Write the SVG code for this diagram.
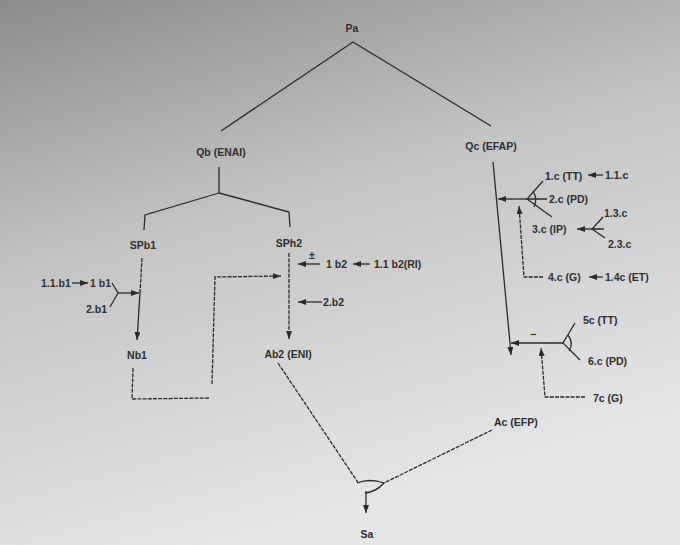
<svg xmlns="http://www.w3.org/2000/svg" width="680" height="545" viewBox="0 0 680 545">
  <defs>
    <linearGradient id="bg" x1="0" y1="0" x2="0.35" y2="1">
      <stop offset="0" stop-color="#8c8c8c"/>
      <stop offset="0.45" stop-color="#c4c4c4"/>
      <stop offset="1" stop-color="#e6e6e6"/>
    </linearGradient>
    <marker id="ah" markerUnits="userSpaceOnUse" markerWidth="8" markerHeight="6" refX="8" refY="3" orient="auto">
      <path d="M0,0 L8,3 L0,6 z" fill="#2a2a2a"/>
    </marker>
    <style>
      .ln { fill: none; stroke: #2a2a2a; stroke-width: 1.3; }
      .ds { stroke-dasharray: 4 1.2; }
      .ar { marker-end: url(#ah); }
      text { font-family: "Liberation Sans", Arial, sans-serif; font-size: 10.5px; font-weight: bold; fill: #2e2e2e; }
      .c { text-anchor: middle; }
    </style>
  </defs>
  <rect x="0" y="0" width="680" height="545" fill="url(#bg)"/>

  <g id="connectors">
    <path class="ln" d="M353,42 L221,131"/>
    <path class="ln" d="M353,42 L491,126"/>
    <path class="ln" d="M219,167 L219,193"/>
    <path class="ln" d="M219,193 L145,215 L144,230"/>
    <path class="ln" d="M219,193 L289,212 L290,227"/>
    <path class="ln ds" d="M142,258 L140,293"/>
    <path class="ln ar" d="M140,293 L137,340"/>
    <path class="ln ar" d="M72,283 L88,283"/>
    <path class="ln" d="M112,283 L118,293 L110,307"/>
    <path class="ln ar" d="M118,293 L139,293"/>
    <path class="ln ds" d="M133,368 L132,399 L210,398"/>
    <path class="ln ds ar" d="M212,384 L215,277 L281,276"/>
    <path class="ln ds ar" d="M289,253 L289,339"/>
    <path class="ln ar" d="M320,264 L298,264"/>
    <path class="ln ar" d="M370,264 L353,264"/>
    <path class="ln ar" d="M322,302 L298,302"/>
    <path class="ln ar" d="M493,162 L510,343 L511,355"/>
    <path class="ln ar" d="M527,199 L498,199"/>
    <path class="ln" d="M543,181 L527,199 L547,199 M527,199 L552,217"/>
    <path class="ln" d="M533,191 Q538,199 534,207"/>
    <path class="ln ar" d="M603,175 L588,175"/>
    <path class="ln ar" d="M592,229 L577,229"/>
    <path class="ln" d="M603,217 L592,229 L604,229 M592,229 L605,238"/>
    <path class="ln ds ar" d="M543,277 L524,277 L519,206"/>
    <path class="ln ar" d="M603,277 L589,277"/>
    <path class="ln ar" d="M563,343 L511,343"/>
    <path class="ln" d="M575,323 L563,343 L580,360"/>
    <path class="ln" d="M568,335 Q574,343 569,351"/>
    <path class="ln ds ar" d="M585,397 L545,397 L541,348"/>
    <path class="ln ds" d="M278,363 L359,484"/>
    <path class="ln ds" d="M492,430 L384,483"/>
    <path class="ln" d="M357,483 Q370,478 384,483 Q376,492 365,493"/>
    <path class="ln ar" d="M366,491 L366,513"/>
  </g>

  <g id="node-Pa"><text class="c" x="352" y="32">Pa</text></g>
  <g id="node-Qb"><text class="c" x="221" y="156">Qb (ENAI)</text></g>
  <g id="node-Qc"><text class="c" x="491" y="150">Qc (EFAP)</text></g>
  <g id="node-SPb1"><text class="c" x="143" y="249">SPb1</text></g>
  <g id="node-SPh2"><text class="c" x="289" y="247">SPh2</text></g>
  <g id="node-1.1.b1"><text x="41" y="287">1.1.b1</text></g>
  <g id="node-1b1"><text x="90" y="287">1 b1</text></g>
  <g id="node-2.b1"><text x="86" y="313">2.b1</text></g>
  <g id="node-Nb1"><text class="c" x="137" y="359">Nb1</text></g>
  <g id="node-1b2"><text class="c" x="312" y="259">±</text><text x="326" y="268">1 b2</text></g>
  <g id="node-1.1b2"><text x="374" y="268">1.1 b2(RI)</text></g>
  <g id="node-2.b2"><text x="323" y="306">2.b2</text></g>
  <g id="node-Ab2"><text class="c" x="288" y="358">Ab2 (ENI)</text></g>
  <g id="node-1c"><text x="545" y="180">1.c (TT)</text></g>
  <g id="node-1.1c"><text x="605" y="179">1.1.c</text></g>
  <g id="node-2c"><text x="549" y="203">2.c (PD)</text></g>
  <g id="node-3c"><text x="532" y="233">3.c (IP)</text></g>
  <g id="node-1.3c"><text x="604" y="217">1.3.c</text></g>
  <g id="node-2.3c"><text x="608" y="248">2.3.c</text></g>
  <g id="node-4c"><text x="548" y="281">4.c (G)</text></g>
  <g id="node-1.4c"><text x="605" y="281">1.4c (ET)</text></g>
  <g id="node-5c"><text x="583" y="324">5c (TT)</text></g>
  <g id="node-6c"><text x="588" y="365">6.c (PD)</text></g>
  <g id="node-minus"><text class="c" x="533" y="338">−</text></g>
  <g id="node-7c"><text x="593" y="402">7c (G)</text></g>
  <g id="node-Ac"><text x="494" y="426">Ac (EFP)</text></g>
  <g id="node-Sa"><text class="c" x="367" y="538">Sa</text></g>
</svg>
